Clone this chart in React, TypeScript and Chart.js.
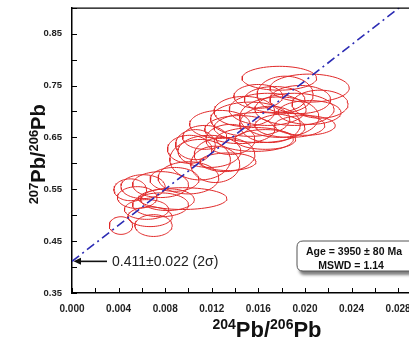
import React, { useEffect, useRef } from 'react';
import { Chart, registerables } from 'chart.js';

Chart.register(...registerables);

// Tick labels shown on the axes
const xTickLabels = ['0.000', '0.004', '0.008', '0.012', '0.016', '0.020', '0.024', '0.028'];
const yTickLabels = ['0.35', '0.45', '0.55', '0.65', '0.75', '0.85'];

// Error ellipses: centres (204Pb/206Pb, 207Pb/206Pb) and semi-axes
const ellipseX = [0.0042, 0.0070, 0.0067, 0.0064, 0.0056, 0.0061, 0.0082, 0.0095, 0.0076, 0.0050, 0.0088, 0.0100, 0.0110, 0.0118, 0.0106, 0.0123, 0.0131, 0.0134, 0.0114, 0.0144, 0.0153, 0.0161, 0.0148, 0.0168, 0.0178, 0.0174, 0.0191, 0.0196, 0.0187, 0.0204, 0.0178, 0.0204, 0.0183, 0.0160, 0.0200, 0.0136, 0.0166, 0.0127, 0.0157, 0.0213, 0.0101, 0.0076, 0.0170];
const ellipseY = [0.480, 0.480, 0.497, 0.511, 0.534, 0.555, 0.530, 0.532, 0.559, 0.549, 0.569, 0.572, 0.607, 0.623, 0.636, 0.598, 0.617, 0.603, 0.650, 0.665, 0.685, 0.669, 0.700, 0.704, 0.689, 0.723, 0.704, 0.723, 0.673, 0.698, 0.764, 0.745, 0.733, 0.729, 0.673, 0.646, 0.646, 0.675, 0.646, 0.714, 0.627, 0.520, 0.675];
const ellipseRx = [0.0010, 0.0016, 0.0019, 0.0019, 0.0017, 0.0019, 0.0023, 0.0038, 0.0024, 0.0014, 0.0021, 0.0026, 0.0026, 0.0027, 0.0017, 0.0021, 0.0026, 0.0024, 0.0019, 0.0030, 0.0034, 0.0039, 0.0026, 0.0033, 0.0034, 0.0026, 0.0034, 0.0026, 0.0030, 0.0027, 0.0032, 0.0034, 0.0024, 0.0021, 0.0026, 0.0021, 0.0026, 0.0026, 0.0033, 0.0024, 0.0019, 0.0024, 0.0026];
const ellipseRy = [0.017, 0.021, 0.019, 0.019, 0.021, 0.023, 0.021, 0.021, 0.025, 0.021, 0.023, 0.031, 0.039, 0.031, 0.029, 0.035, 0.033, 0.017, 0.023, 0.027, 0.033, 0.029, 0.029, 0.031, 0.039, 0.025, 0.031, 0.027, 0.023, 0.023, 0.023, 0.027, 0.035, 0.023, 0.019, 0.029, 0.019, 0.027, 0.023, 0.027, 0.027, 0.023, 0.035];

// Isochron line
const isochronIntercept = 0.411;
const isochronSlope = 17.4;
const isochronX = [0, 0.034];

const interceptLabel = '0.411\u00B10.022 (2\u03C3)';
const ageLabel = 'Age = 3950 \u00B1 80 Ma';
const mswdLabel = 'MSWD = 1.14';

const FONT = '"Liberation Sans", Arial, sans-serif';

function ellipsePoints(cx: number, cy: number, rx: number, ry: number) {
  const pts: { x: number; y: number }[] = [];
  const n = 72;
  for (let i = 0; i <= n; i++) {
    const t = (i / n) * Math.PI * 2;
    pts.push({ x: cx + rx * Math.cos(t), y: cy + ry * Math.sin(t) });
  }
  return pts;
}

function drawSupText(ctx: CanvasRenderingContext2D, parts: [string, boolean][], cx: number, baseY: number, big: number, small: number, raise: number) {
  const fBig = `bold ${big}px ${FONT}`;
  const fSmall = `bold ${small}px ${FONT}`;
  let total = 0;
  for (const [t, sup] of parts) {
    ctx.font = sup ? fSmall : fBig;
    total += ctx.measureText(t).width;
  }
  let x = cx - total / 2;
  ctx.textAlign = 'left';
  ctx.textBaseline = 'alphabetic';
  for (const [t, sup] of parts) {
    ctx.font = sup ? fSmall : fBig;
    ctx.fillText(t, x, sup ? baseY - raise : baseY);
    x += ctx.measureText(t).width;
  }
}

const decorPlugin = {
  id: 'decor',
  afterDraw(chart: any) {
    const { ctx, chartArea } = chart;
    const xs = chart.scales.x;
    const ys = chart.scales.y;
    const { left, right, top, bottom } = chartArea;
    ctx.save();
    ctx.strokeStyle = '#000';
    ctx.lineWidth = 1.2;
    // top frame
    ctx.beginPath();
    ctx.moveTo(left, top + 0.5);
    ctx.lineTo(right, top + 0.5);
    ctx.stroke();
    // inward ticks
    ctx.lineWidth = 1;
    ctx.beginPath();
    for (const t of xs.ticks) {
      const px = Math.round(xs.getPixelForValue(t.value)) + 0.5;
      ctx.moveTo(px, bottom);
      ctx.lineTo(px, bottom - 5);
    }
    for (const t of ys.ticks) {
      const py = Math.round(ys.getPixelForValue(t.value)) + 0.5;
      ctx.moveTo(left, py);
      ctx.lineTo(left + 5, py);
    }
    ctx.stroke();

    // intercept arrow
    const ay = ys.getPixelForValue(isochronIntercept);
    ctx.strokeStyle = '#111';
    ctx.fillStyle = '#111';
    ctx.lineWidth = 1.6;
    ctx.beginPath();
    ctx.moveTo(left + 7, ay);
    ctx.lineTo(left + 35, ay);
    ctx.stroke();
    ctx.beginPath();
    ctx.moveTo(left + 1.5, ay);
    ctx.lineTo(left + 9, ay - 3.5);
    ctx.lineTo(left + 9, ay + 3.5);
    ctx.closePath();
    ctx.fill();
    ctx.font = `14px ${FONT}`;
    ctx.fillStyle = '#222';
    ctx.textAlign = 'left';
    ctx.textBaseline = 'middle';
    ctx.fillText(interceptLabel, left + 40, ay + 0.5);

    // result box
    const bx = left + 225;
    const by = bottom - 52;
    const bw = 118;
    const bh = 30;
    const r = 6;
    ctx.save();
    ctx.shadowColor = 'rgba(0,0,0,0.5)';
    ctx.shadowOffsetX = 2;
    ctx.shadowOffsetY = 4;
    ctx.shadowBlur = 3;
    ctx.fillStyle = '#fff';
    ctx.beginPath();
    ctx.moveTo(bx + r, by);
    ctx.lineTo(bx + bw - r, by);
    ctx.quadraticCurveTo(bx + bw, by, bx + bw, by + r);
    ctx.lineTo(bx + bw, by + bh - r);
    ctx.quadraticCurveTo(bx + bw, by + bh, bx + bw - r, by + bh);
    ctx.lineTo(bx + r, by + bh);
    ctx.quadraticCurveTo(bx, by + bh, bx, by + bh - r);
    ctx.lineTo(bx, by + r);
    ctx.quadraticCurveTo(bx, by, bx + r, by);
    ctx.closePath();
    ctx.fill();
    ctx.restore();
    ctx.strokeStyle = '#555';
    ctx.lineWidth = 1;
    ctx.stroke();
    ctx.fillStyle = '#111';
    ctx.font = `bold 10.5px ${FONT}`;
    ctx.textAlign = 'center';
    ctx.textBaseline = 'middle';
    ctx.fillText(ageLabel, bx + 57, by + 11);
    ctx.fillText(mswdLabel, bx + 54, by + 25);

    // axis titles
    ctx.fillStyle = '#111';
    drawSupText(ctx, [['204', true], ['Pb/', false], ['206', true], ['Pb', false]], left + 195, 337, 22, 14, 8);
    ctx.save();
    ctx.translate(45, (top + bottom) / 2 + 4);
    ctx.rotate(-Math.PI / 2);
    drawSupText(ctx, [['207', true], ['Pb/', false], ['206', true], ['Pb', false]], 0, 0, 20, 13, 7);
    ctx.restore();

    ctx.restore();
  },
};

export default function App() {
  const ref = useRef<HTMLCanvasElement | null>(null);
  useEffect(() => {
    if (!ref.current) return;
    const ellipseSets = ellipseX.map((cx, i) => ({
      data: ellipsePoints(cx, ellipseY[i], ellipseRx[i], ellipseRy[i]),
      showLine: true,
      borderColor: '#e02828',
      borderWidth: 1,
      pointRadius: 0,
      fill: false,
      order: 2,
    }));
    const lineSet = {
      data: isochronX.map((x) => ({ x, y: isochronIntercept + isochronSlope * x })),
      showLine: true,
      borderColor: '#2c2cb4',
      borderWidth: 1.6,
      borderDash: [9, 4, 2, 4],
      pointRadius: 0,
      fill: false,
      order: 1,
    };
    const chart = new Chart(ref.current, {
      type: 'scatter',
      data: { datasets: [lineSet, ...ellipseSets] as any },
      options: {
        responsive: false,
        animation: false,
        devicePixelRatio: 1,
        layout: { padding: 0 },
        plugins: { legend: { display: false }, tooltip: { enabled: false } },
        scales: {
          x: {
            type: 'linear',
            min: 0,
            max: 0.034,
            grid: { display: false, drawTicks: true, tickLength: 8 },
            border: { display: true, color: '#000', width: 1.5 },
            ticks: {
              stepSize: 0.002,
              autoSkip: false,
              maxRotation: 0,
              padding: 2,
              color: '#222',
              font: { family: FONT, weight: 'bold', size: 10 },
              callback: (v: any) => {
                const s = Number(v).toFixed(3);
                return xTickLabels.includes(s) ? s : '';
              },
            },
            afterFit: (s: any) => {
              s.height = 46;
            },
          },
          y: {
            type: 'linear',
            min: 0.35,
            max: 0.9,
            grid: { display: false, drawTicks: true, tickLength: 8 },
            border: { display: true, color: '#000', width: 1.5 },
            ticks: {
              stepSize: 0.05,
              autoSkip: false,
              padding: 2,
              color: '#222',
              font: { family: FONT, weight: 'bold', size: 9.5 },
              callback: (v: any) => {
                const s = Number(v).toFixed(2);
                return yTickLabels.includes(s) ? s : '';
              },
            },
            afterFit: (s: any) => {
              s.width = 72;
            },
          },
        },
      } as any,
      plugins: [decorPlugin],
    });
    return () => chart.destroy();
  }, []);
  return (
    <div style={{ position: 'absolute', left: 0, top: 0, width: 409, height: 339, overflow: 'hidden', background: '#fff' }}>
      <canvas ref={ref} width={470} height={339} style={{ display: 'block', width: 470, height: 339 }} />
    </div>
  );
}
